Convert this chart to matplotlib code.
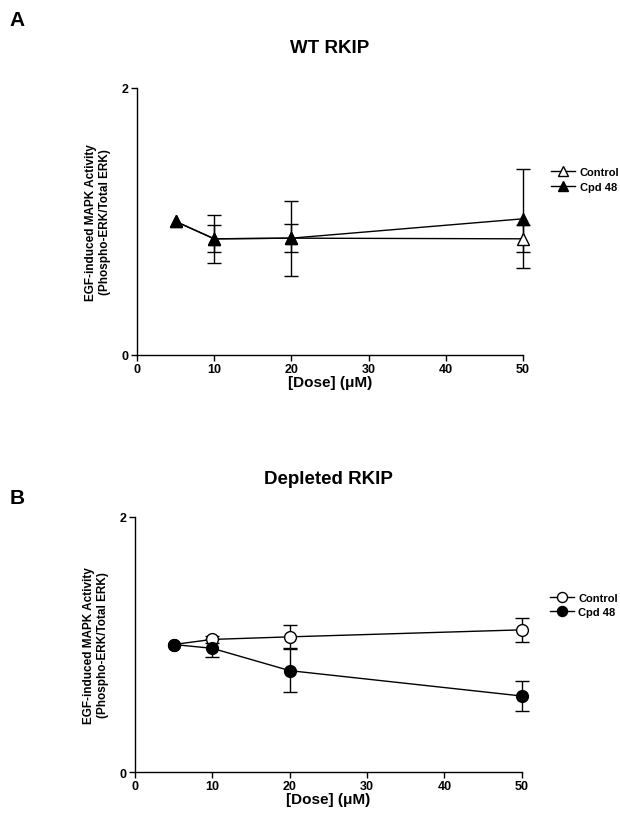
import matplotlib
matplotlib.use("Agg")
import matplotlib.pyplot as plt

plt.rcParams['font.family'] = ['Liberation Sans', 'DejaVu Sans']
plt.rcParams['font.weight'] = 'bold'

dose = [5, 10, 20, 50]

# Panel A: WT RKIP
a_ctrl = [1.00, 0.87, 0.875, 0.87]
a_ctrl_err = [0.0, 0.10, 0.105, 0.10]
a_cpd = [1.00, 0.87, 0.875, 1.02]
a_cpd_err = [0.0, 0.18, 0.28, 0.37]

# Panel B: Depleted RKIP
b_ctrl = [1.00, 1.04, 1.06, 1.115]
b_ctrl_err = [0.0, 0.03, 0.09, 0.095]
b_cpd = [1.00, 0.97, 0.795, 0.596]
b_cpd_err = [0.0, 0.07, 0.17, 0.115]

xticks = [0, 10, 20, 30, 40, 50]
yticks = [0, 2]
ylabel = "EGF-induced MAPK Activity\n(Phospho-ERK/Total ERK)"
xlabel = "[Dose] (\u03bcM)"

fig = plt.figure(figsize=(6.2, 8.2), dpi=100)
axA = fig.add_axes([0.221, 0.5659, 0.6226, 0.3256])
axB = fig.add_axes([0.2177, 0.0573, 0.624, 0.311])


def style(ax, title, pad):
    ax.set_xlim(0, 50)
    ax.set_ylim(0, 2)
    ax.set_xticks(xticks)
    ax.set_yticks(yticks)
    for s in ['top', 'right']:
        ax.spines[s].set_visible(False)
    for s in ['left', 'bottom']:
        ax.spines[s].set_linewidth(1.0)
    ax.tick_params(direction='out', length=4, width=1, labelsize=9, pad=2)
    for lab in ax.get_xticklabels() + ax.get_yticklabels():
        lab.set_fontweight('bold')
    ax.set_xlabel(xlabel, fontsize=11, fontweight='bold', labelpad=0)
    ax.set_ylabel(ylabel, fontsize=8.5, fontweight='bold', labelpad=8)
    ax.set_title(title, fontsize=13.5, fontweight='bold', pad=pad)


def series(ax, x, y, err, marker, ms, fc, label):
    line, = ax.plot(x, y, color='black', lw=1, marker=marker, markersize=ms,
                    markerfacecolor=fc, markeredgecolor='black', label=label,
                    clip_on=False, zorder=3)
    xs = [xi for xi, e in zip(x, err) if e > 0]
    ys = [yi for yi, e in zip(y, err) if e > 0]
    es = [e for e in err if e > 0]
    ax.errorbar(xs, ys, yerr=es, fmt='none', ecolor='black', elinewidth=1,
                capsize=5, capthick=1, clip_on=False, zorder=2)
    return line


series(axA, dose, a_ctrl, a_ctrl_err, '^', 8, 'white', 'Control')
series(axA, dose, a_cpd, a_cpd_err, '^', 8, 'black', 'Cpd 48')
style(axA, "WT RKIP", 26)

series(axB, dose, b_ctrl, b_ctrl_err, 'o', 8.5, 'white', 'Control')
series(axB, dose, b_cpd, b_cpd_err, 'o', 8.5, 'black', 'Cpd 48')
style(axB, "Depleted RKIP", 24.5)

for ax in (axA, axB):
    ax.legend(loc='upper left', bbox_to_anchor=(1.06, 0.72), frameon=False,
              prop={'size': 8, 'weight': 'bold'}, handlelength=2.2,
              handletextpad=0.4, labelspacing=0.4, borderaxespad=0,
              markerscale=0.85)

fig.text(0.015, 0.968, "A", fontsize=15, fontweight='bold')
fig.text(0.015, 0.385, "B", fontsize=15, fontweight='bold')

fig.savefig("out.png", dpi=100)
